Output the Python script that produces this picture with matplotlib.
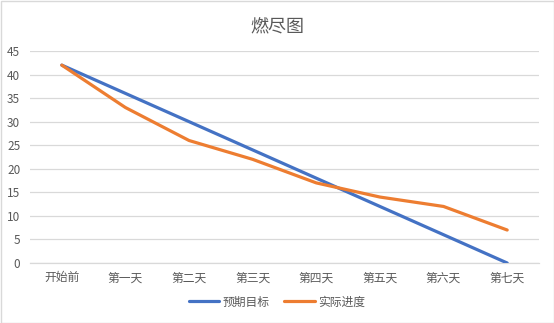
import matplotlib
matplotlib.use("Agg")
import matplotlib.pyplot as plt
from matplotlib.patches import Rectangle

plt.rcParams['font.family'] = ['Noto Sans CJK SC', 'DejaVu Sans']

categories = ["开始前", "第一天", "第二天", "第三天", "第四天", "第五天", "第六天", "第七天"]
planned = [42, 36, 30, 24, 18, 12, 6, 0]
actual = [42, 33, 26, 22, 17, 14, 12, 7]
series_names = ["预期目标", "实际进度"]
yticks = [0, 5, 10, 15, 20, 25, 30, 35, 40, 45]

text_color = "#595959"
grid_color = "#D9D9D9"

fig = plt.figure(figsize=(5.54, 3.23), dpi=100)
ax = fig.add_axes([30 / 554, 1 - 263 / 323, 509 / 554, (263 - 51) / 323])

x = list(range(len(categories)))
ax.plot(x, planned, color="#4472C4", lw=2.3, solid_joinstyle="round",
        solid_capstyle="round", label=series_names[0], zorder=3)
ax.plot(x, actual, color="#ED7D31", lw=2.3, solid_joinstyle="round",
        solid_capstyle="round", label=series_names[1], zorder=4)

ax.set_xlim(-0.5, len(categories) - 0.5)
ax.set_ylim(0, 45)
ax.set_yticks(yticks)
ax.set_xticks(x)
ax.set_xticklabels(categories)
ax.grid(axis="y", color=grid_color, lw=0.9)
ax.set_axisbelow(True)
for s in ["top", "right", "left"]:
    ax.spines[s].set_visible(False)
ax.spines["bottom"].set_color(grid_color)
ax.spines["bottom"].set_linewidth(0.9)
ax.tick_params(axis="both", length=0, colors=text_color, labelsize=8.5)
ax.tick_params(axis="x", pad=6)
ax.tick_params(axis="y", pad=7)

fig.text(0.5, 1 - 27 / 323, "燃尽图", ha="center", va="center",
         fontsize=13, color=text_color)

leg = fig.legend(loc="center", bbox_to_anchor=(0.5, 1 - 302 / 323), ncol=2,
                 frameon=False, fontsize=8.5, handlelength=2.6,
                 columnspacing=1.2, handletextpad=0.3)
for t in leg.get_texts():
    t.set_color(text_color)

fig.patches.append(Rectangle((0.5 / 554, 0.5 / 323), 553 / 554, 322 / 323,
                             transform=fig.transFigure, fill=False,
                             edgecolor="#D9D9D9", lw=1))

fig.savefig("out.png", dpi=100)
